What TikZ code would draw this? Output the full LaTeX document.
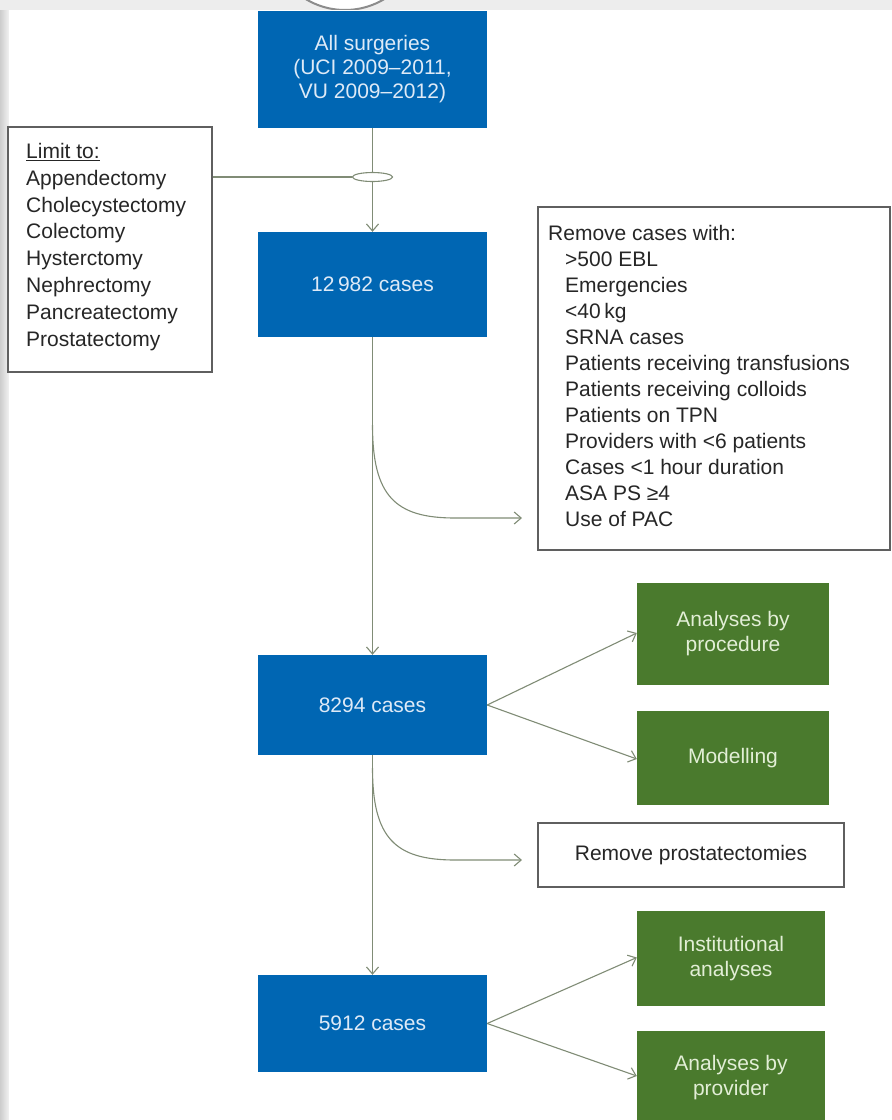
\documentclass[tikz,border=0pt]{standalone}
\usepackage{fontspec}
\setmainfont{Liberation Sans}
\usetikzlibrary{arrows.meta,shapes.geometric}
\definecolor{boxblue}{RGB}{0,102,179}
\definecolor{boxgreen}{RGB}{74,122,45}
\definecolor{bluetext}{RGB}{222,234,247}
\definecolor{greentext}{RGB}{226,238,214}
\definecolor{linkcol}{RGB}{128,140,118}
\definecolor{framecol}{RGB}{95,95,95}
\definecolor{deco}{RGB}{205,205,205}
\tikzset{
  bluebox/.style={fill=boxblue, draw=none, minimum width=229pt, text=bluetext, align=center, inner sep=0pt, font=\fontsize{21}{24}\selectfont},
  greenbox/.style={fill=boxgreen, draw=none, text=greentext, align=center, inner sep=0pt, font=\fontsize{21}{25}\selectfont},
  framebox/.style={draw=framecol, line width=1.2pt, fill=white, inner sep=0pt},
  listtext/.style={font=\fontsize{21}{26.8}\selectfont, align=left, text=black!85, anchor=north west, inner sep=0pt},
  link/.style={draw=linkcol, line width=1.1pt},
  arr/.style={link, -{Straight Barb[length=7pt,width=12pt]}},
}
\begin{document}
\begin{tikzpicture}[x=1pt,y=-1pt]
\useasboundingbox (0,0) rectangle (892,1120);
% background decoration (slide frame)
\fill[white] (0,0) rectangle (892,1120);
\shade[left color=deco, right color=white!95!black] (0,0) rectangle (9,1120);
\fill[black!7] (0,0) rectangle (892,10);
\begin{scope}
\clip (0,0) rectangle (892,10);
\draw[black!45, line width=2pt, fill=white] (345,-75) ellipse (80 and 85);
\draw[black!35, line width=1.5pt] (120,-150) arc (-10:-3:700);
\end{scope}
\fill[white] (9,10) rectangle (892,1120);

% main column
\node[bluebox, minimum height=117pt] (all) at (372.5,69.5) {All surgeries\\(UCI 2009--2011,\\VU 2009--2012)};
\node[bluebox, minimum height=105pt] (c1) at (372.5,284.5) {12\,982 cases};
\node[bluebox, minimum height=100pt] (c2) at (372.5,705) {8294 cases};
\node[bluebox, minimum height=97pt] (c3) at (372.5,1023.5) {5912 cases};

% limit box
\node[framebox, minimum width=204pt, minimum height=245pt] (limit) at (110,249.5) {};
\node[listtext] (limtxt) at (26,143) {\underline{Limit to:}\\Appendectomy\\Cholecystectomy\\Colectomy\\Hysterctomy\\Nephrectomy\\Pancreatectomy\\Prostatectomy};

% remove box
\node[framebox, minimum width=352pt, minimum height=343pt] (remove) at (714,378.5) {};
\node[listtext, font=\fontsize{21}{26}\selectfont] (remtxt) at (548,225) {Remove cases with:\\
\hspace*{17pt}>500 EBL\\
\hspace*{17pt}Emergencies\\
\hspace*{17pt}<40\,kg\\
\hspace*{17pt}SRNA cases\\
\hspace*{17pt}Patients receiving transfusions\\
\hspace*{17pt}Patients receiving colloids\\
\hspace*{17pt}Patients on TPN\\
\hspace*{17pt}Providers with <6 patients\\
\hspace*{17pt}Cases <1 hour duration\\
\hspace*{17pt}ASA PS ≥4\\
\hspace*{17pt}Use of PAC};

% prostatectomies box
\node[framebox, minimum width=306pt, minimum height=64pt, font=\fontsize{21}{24}\selectfont, text=black!85] (prost) at (691,855) {Remove prostatectomies};

% green boxes
\node[greenbox, minimum width=192pt, minimum height=102pt] (g1) at (733,634) {Analyses by\\procedure};
\node[greenbox, minimum width=192pt, minimum height=94pt] (g2) at (733,758) {Modelling};
\node[greenbox, minimum width=188pt, minimum height=95pt] (g3) at (731,958.5) {Institutional\\analyses};
\node[greenbox, minimum width=188pt, minimum height=94pt] (g4) at (731,1078) {Analyses by\\provider};

% ellipse junction
\node[draw=linkcol, line width=1.1pt, ellipse, minimum width=40pt, minimum height=9pt, inner sep=0pt, fill=white] (junc) at (372.5,177) {};

% connectors
\draw[link] (all.south) -- (junc.north);
\draw[arr] (junc.south) -- (c1.north);
\draw[link] (limit.east |- junc.west) -- (junc.west);
\draw[arr] (c1.south) -- (c2.north);
\draw[arr] (c2.south) -- (c3.north);

\coordinate (b1) at (372.5,425);
\coordinate (e1) at (522,518);
\draw[arr] (b1) .. controls (372.5,496) and (395,518) .. (455,518) -- (e1);
\coordinate (b2) at (372.5,768);
\coordinate (e2) at (522,860);
\draw[arr] (b2) .. controls (372.5,838) and (395,860) .. (455,860) -- (e2);

\draw[arr] (c2.east) -- ([yshift=1pt]g1.west);
\draw[arr] (c2.east) -- ([yshift=-1pt]g2.west);
\draw[arr] (c3.east) -- ([yshift=1pt]g3.west);
\draw[arr] (c3.east) -- ([yshift=2pt]g4.west);
\end{tikzpicture}
\end{document}
